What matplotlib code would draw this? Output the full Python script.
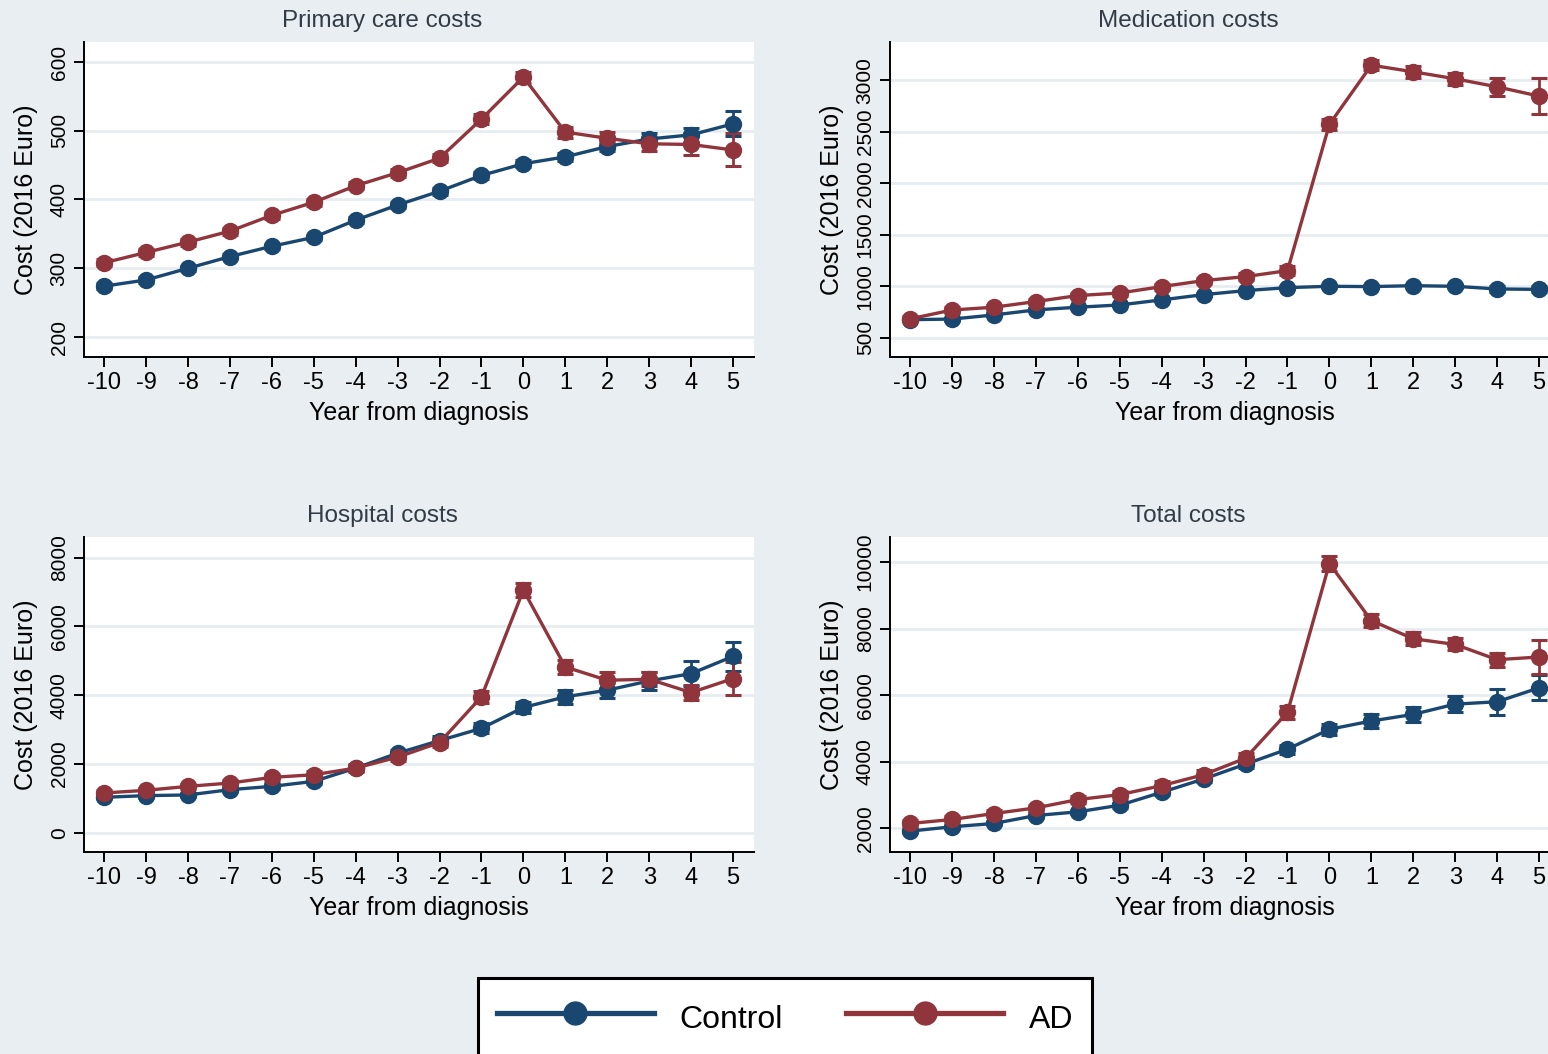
import matplotlib
matplotlib.use("Agg")
import matplotlib.pyplot as plt
from matplotlib.lines import Line2D

plt.rcParams['font.family'] = ['Liberation Sans', 'DejaVu Sans']

# ---------------------------------------------------------------- data
years = list(range(-10, 6))
year_labels = [str(y) for y in years]

primary_control = [274, 283, 300, 317, 332, 345, 370, 392, 412, 435, 452, 462, 477, 488, 494, 510]
primary_control_err = [4, 4, 4, 4, 4, 4, 4, 5, 5, 5, 5, 6, 7, 8, 10, 18]
primary_ad = [308, 323, 338, 354, 377, 396, 420, 439, 460, 517, 578, 498, 489, 481, 480, 472]
primary_ad_err = [5, 5, 5, 5, 5, 5, 5, 6, 6, 7, 8, 8, 9, 10, 16, 24]

medication_control = [676, 682, 722, 771, 797, 819, 868, 919, 958, 987, 1000, 997, 1006, 1000, 974, 970]
medication_control_err = [15, 15, 15, 15, 15, 15, 15, 15, 15, 15, 15, 15, 18, 20, 25, 30]
medication_ad = [684, 770, 797, 852, 910, 935, 997, 1055, 1094, 1152, 2571, 3145, 3081, 3013, 2935, 2845]
medication_ad_err = [25, 25, 25, 25, 25, 25, 30, 30, 35, 40, 50, 50, 60, 60, 90, 175]

hospital_control = [1031, 1080, 1099, 1253, 1349, 1494, 1880, 2313, 2680, 3036, 3643, 3952, 4145, 4414, 4627, 5128]
hospital_control_err = [60, 60, 60, 70, 70, 80, 80, 100, 120, 150, 150, 200, 220, 250, 360, 430]
hospital_ad = [1157, 1234, 1349, 1446, 1610, 1687, 1880, 2198, 2622, 3952, 7055, 4819, 4434, 4463, 4077, 4482]
hospital_ad_err = [80, 80, 80, 90, 100, 100, 110, 120, 140, 180, 200, 200, 250, 200, 230, 480]

total_control = [1920, 2050, 2149, 2388, 2498, 2697, 3085, 3483, 3930, 4378, 4975, 5224, 5423, 5731, 5801, 6219]
total_control_err = [60, 60, 60, 70, 70, 80, 90, 100, 120, 140, 160, 200, 220, 250, 390, 375]
total_ad = [2149, 2269, 2448, 2617, 2866, 3015, 3284, 3612, 4109, 5483, 9950, 8239, 7692, 7522, 7065, 7144]
total_ad_err = [90, 90, 100, 100, 110, 120, 130, 140, 160, 200, 220, 200, 200, 180, 210, 500]

panel_titles = ["Primary care costs", "Medication costs", "Hospital costs", "Total costs"]
series_names = ["Control", "AD"]

# ---------------------------------------------------------------- style
BG = "#E8EEF1"
GRID = "#E6EDF0"
C_CONTROL = "#1A476F"
C_AD = "#90353B"
TITLE_C = "#333C46"

W, H = 1548, 1054
fig = plt.figure(figsize=(W / 100, H / 100), dpi=100, facecolor=BG)


def axes_px(left, top, right, bottom):
    return fig.add_axes([left / W, 1 - bottom / H, (right - left) / W, (bottom - top) / H])


panels = [
    dict(box=(84, 42, 754, 357), title=panel_titles[0],
         ctrl=primary_control, ctrl_err=primary_control_err,
         ad=primary_ad, ad_err=primary_ad_err,
         ylim=(171, 629), yticks=[200, 300, 400, 500, 600]),
    dict(box=(890, 42, 1560, 357), title=panel_titles[1],
         ctrl=medication_control, ctrl_err=medication_control_err,
         ad=medication_ad, ad_err=medication_ad_err,
         ylim=(314, 3370), yticks=[500, 1000, 1500, 2000, 2500, 3000]),
    dict(box=(84, 537, 754, 852), title=panel_titles[2],
         ctrl=hospital_control, ctrl_err=hospital_control_err,
         ad=hospital_ad, ad_err=hospital_ad_err,
         ylim=(-559, 8598), yticks=[0, 2000, 4000, 6000, 8000]),
    dict(box=(890, 537, 1560, 852), title=panel_titles[3],
         ctrl=total_control, ctrl_err=total_control_err,
         ad=total_ad, ad_err=total_ad_err,
         ylim=(1293, 10746), yticks=[2000, 4000, 6000, 8000, 10000]),
]

for p in panels:
    ax = axes_px(*p["box"])
    ax.set_facecolor("white")
    ax.set_axisbelow(True)
    for side in ("top", "right"):
        ax.spines[side].set_visible(False)
    for side in ("left", "bottom"):
        ax.spines[side].set_linewidth(1.4)
        ax.spines[side].set_color("black")

    ax.yaxis.grid(True, color=GRID, lw=2.0)
    ax.xaxis.grid(False)

    for vals, errs, col in ((p["ctrl"], p["ctrl_err"], C_CONTROL), (p["ad"], p["ad_err"], C_AD)):
        ax.errorbar(years, vals, yerr=errs, fmt="none", ecolor=col, elinewidth=2.0,
                    capsize=6, capthick=2.2, zorder=3)
        ax.plot(years, vals, color=col, lw=2.4, marker="o", ms=11.5,
                markeredgecolor=col, markerfacecolor=col, zorder=4)

    ax.set_xlim(-10.48, 5.5)
    ax.set_ylim(*p["ylim"])
    ax.set_xticks(years)
    ax.set_xticklabels(year_labels)
    ax.set_yticks(p["yticks"])
    ax.set_yticklabels([str(v) for v in p["yticks"]], rotation=90, va="center",
                       family=["Liberation Sans Narrow", "Liberation Sans"], fontsize=15)
    ax.tick_params(axis="x", length=7, width=1.4, labelsize=17, pad=4, colors="black")
    ax.tick_params(axis="y", length=7, width=1.4, pad=4, colors="black")

    ax.set_xlabel("Year from diagnosis", fontsize=18)
    ax.xaxis.set_label_coords(0.5, -(413 - 357) / 315)
    ax.xaxis.label.set_va("center")
    ax.set_ylabel("Cost (2016 Euro)", fontsize=18)
    ax.yaxis.set_label_coords(-(84 - 26) / 670, 0.5)
    ax.yaxis.label.set_va("center")

    ax.text(298 / 670, 1 + 21 / 315, p["title"], transform=ax.transAxes,
            ha="center", va="center", fontsize=17.5, color=TITLE_C)

handles = [Line2D([], [], color=C_CONTROL, lw=3.8, marker="o", ms=16.5),
           Line2D([], [], color=C_AD, lw=3.8, marker="o", ms=16.5)]
leg = fig.legend(handles, series_names, loc="upper center",
                 bbox_to_anchor=(785 / W, 1 - 978 / H), ncol=2, frameon=True,
                 fancybox=False, edgecolor="black", facecolor="white", framealpha=1,
                 fontsize=23, handlelength=4.9, handleheight=1.6, handletextpad=0.8,
                 columnspacing=2.0, borderpad=0.6, borderaxespad=0, numpoints=1)
leg.get_frame().set_linewidth(2.2)

fig.savefig("out.png", dpi=100, facecolor=BG)
